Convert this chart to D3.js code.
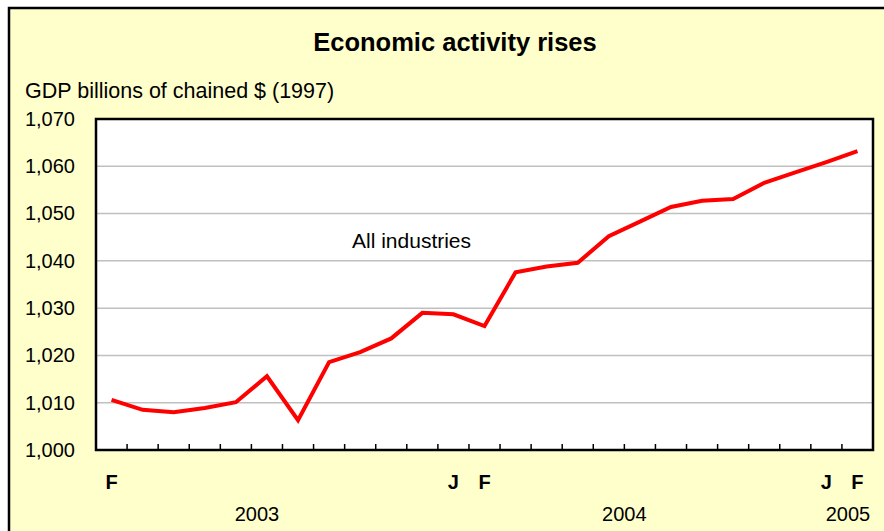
<!DOCTYPE html>
<html>
<head>
<meta charset="utf-8">
<script src="https://cdn.jsdelivr.net/npm/d3@7"></script>
<style>
  html, body { margin: 0; padding: 0; background: #ffffff; }
  svg { display: block; font-family: "Liberation Sans", Arial, sans-serif; }
</style>
</head>
<body>
<svg id="chart" width="884" height="531"></svg>
<script>
// ---- data ----
const months = ["Feb 2003","Mar 2003","Apr 2003","May 2003","Jun 2003","Jul 2003","Aug 2003","Sep 2003","Oct 2003","Nov 2003","Dec 2003",
                "Jan 2004","Feb 2004","Mar 2004","Apr 2004","May 2004","Jun 2004","Jul 2004","Aug 2004","Sep 2004","Oct 2004","Nov 2004","Dec 2004",
                "Jan 2005","Feb 2005"];
const gdp = [1010.6, 1008.5, 1008.0, 1008.9, 1010.1, 1015.6, 1006.3, 1018.6, 1020.7, 1023.6, 1029.0, 1028.7,
             1026.2, 1037.6, 1038.8, 1039.6, 1045.2, 1048.3, 1051.4, 1052.7, 1053.1, 1056.5, 1058.7, 1060.9, 1063.2];
const yTicks = [1000, 1010, 1020, 1030, 1040, 1050, 1060, 1070];
const monthLabels = [
  {month: "Feb 2003", text: "F"},
  {month: "Jan 2004", text: "J"},
  {month: "Feb 2004", text: "F"},
  {month: "Jan 2005", text: "J"},
  {month: "Feb 2005", text: "F"}
];
const yearLabels = [
  {first: "Feb 2003", last: "Dec 2003", text: "2003"},
  {first: "Jan 2004", last: "Dec 2004", text: "2004"},
  {first: "Jan 2005", last: "Feb 2005", text: "2005"}
];
const title = "Economic activity rises";
const yTitle = "GDP billions of chained $ (1997)";
const seriesLabel = "All industries";

// ---- layout ----
const svg = d3.select("#chart");
const W = 884, H = 531;
const plot = {left: 96, top: 119, right: 873, bottom: 450};

// outer background + border
svg.append("rect").attr("x", 0).attr("y", 0).attr("width", W).attr("height", H).attr("fill", "#ffffff");
svg.append("rect").attr("x", 9).attr("y", 8).attr("width", W + 10).attr("height", H + 10)
  .attr("fill", "#FFFFCC").attr("stroke", "#000").attr("stroke-width", 2.5);

const x = d3.scaleBand().domain(months).range([plot.left, plot.right]).padding(0);
const xc = m => x(m) + x.bandwidth() / 2;
const y = d3.scaleLinear().domain([1000, 1070]).range([plot.bottom, plot.top]);

// plot area
svg.append("rect").attr("x", plot.left).attr("y", plot.top)
  .attr("width", plot.right - plot.left).attr("height", plot.bottom - plot.top)
  .attr("fill", "#ffffff");

// gridlines
svg.append("g").selectAll("line").data(yTicks.filter(v => v > 1000 && v < 1070)).join("line")
  .attr("x1", plot.left).attr("x2", plot.right)
  .attr("y1", d => y(d)).attr("y2", d => y(d))
  .attr("stroke", "#C0C0C0").attr("stroke-width", 1.5);

// y axis labels
const yAxis = d3.axisLeft(y).tickValues(yTicks).tickFormat(d3.format(",")).tickSize(0).tickPadding(21);
const yg = svg.append("g").attr("transform", `translate(${plot.left},0)`).call(yAxis);
yg.select(".domain").remove();
yg.selectAll("text").attr("font-size", 20).attr("fill", "#000").attr("font-family", "Liberation Sans, Arial, sans-serif");

// x ticks (inner, at category boundaries)
const xAxis = d3.axisBottom(x).tickSize(-6).tickFormat("").offset(0);
const xg = svg.append("g").attr("transform", `translate(0,${plot.bottom})`).call(xAxis);
xg.select(".domain").remove();
xg.selectAll(".tick").attr("transform", d => `translate(${x(d)},0)`)
  .filter(d => d === months[0]).remove();
xg.selectAll(".tick line").attr("stroke", "#000").attr("stroke-width", 1.5);

// line
const line = d3.line().x((d, i) => xc(months[i])).y(d => y(d));
svg.append("path").datum(gdp).attr("d", line)
  .attr("fill", "none").attr("stroke", "#FF0000").attr("stroke-width", 4).attr("stroke-linejoin", "miter");

// plot frame
svg.append("rect").attr("x", plot.left).attr("y", plot.top)
  .attr("width", plot.right - plot.left).attr("height", plot.bottom - plot.top)
  .attr("fill", "none").attr("stroke", "#000").attr("stroke-width", 2.5);

// month labels
svg.append("g").selectAll("text").data(monthLabels).join("text")
  .attr("x", d => xc(d.month)).attr("y", 489)
  .attr("text-anchor", "middle").attr("font-size", 20).attr("font-weight", "bold").attr("fill", "#000")
  .text(d => d.text);

// year labels
svg.append("g").selectAll("text").data(yearLabels).join("text")
  .attr("x", d => (x(d.first) + x(d.last) + x.bandwidth()) / 2 - (d.text === "2003" ? 10 : (d.text === "2005" ? -6 : 0)))
  .attr("y", 521)
  .attr("text-anchor", "middle").attr("font-size", 20).attr("fill", "#000")
  .text(d => d.text);

// title
svg.append("text").attr("x", 455).attr("y", 51).attr("text-anchor", "middle")
  .attr("font-size", 25.5).attr("font-weight", "bold").attr("fill", "#000").text(title);

// y title
svg.append("text").attr("x", 25).attr("y", 98).attr("font-size", 21.5).attr("fill", "#000").text(yTitle);

// series label
svg.append("text").attr("x", 352).attr("y", 248).attr("font-size", 21).attr("fill", "#000").text(seriesLabel);
</script>
</body>
</html>
